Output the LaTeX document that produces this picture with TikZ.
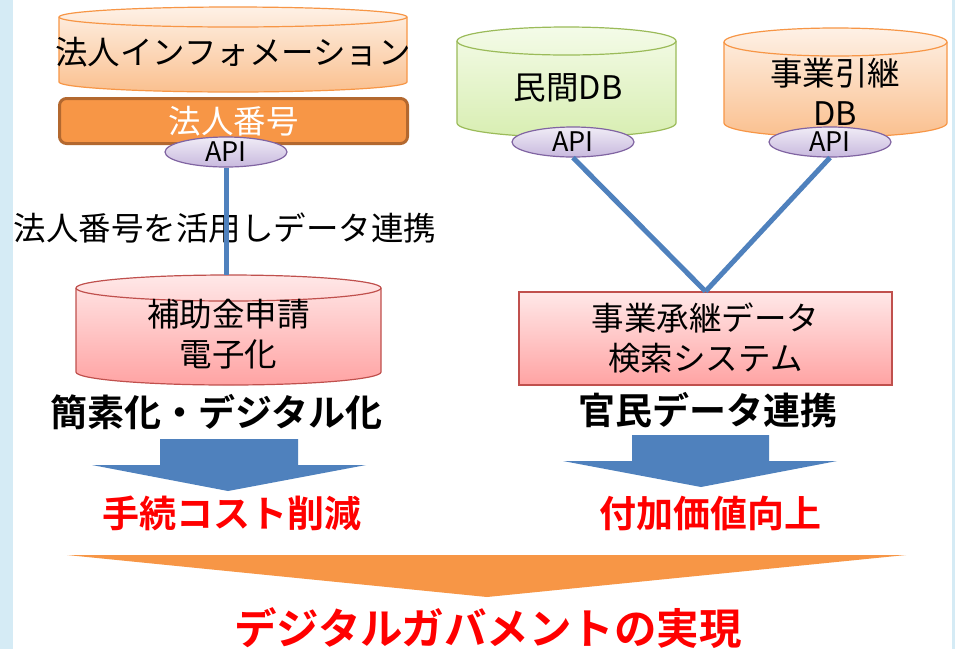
\documentclass[tikz,border=0pt]{standalone}
\usepackage{fontspec}
\newfontfamily\jp{Noto Sans CJK JP}[BoldFont={Noto Sans CJK JP Bold}]
\usetikzlibrary{shapes.geometric}
\definecolor{stripblue}{HTML}{D5EBF5}
\definecolor{lnblue}{HTML}{4F81BD}
\definecolor{orng}{HTML}{F79646}
\definecolor{orngdark}{HTML}{B3682F}
\definecolor{peachtop}{HTML}{FEF1E6}
\definecolor{peachbot}{HTML}{FAC08F}
\definecolor{greentop}{HTML}{F4FBE8}
\definecolor{greenbot}{HTML}{D8EEB2}
\definecolor{greenline}{HTML}{9BBB59}
\definecolor{redtop}{HTML}{FFE8E8}
\definecolor{redbot}{HTML}{FFA3A3}
\definecolor{redline}{HTML}{C0504D}
\definecolor{lavtop}{HTML}{F0ECF6}
\definecolor{lavbot}{HTML}{C8B9DE}
\definecolor{purp}{HTML}{8064A2}
\definecolor{txtred}{HTML}{FF0000}
% #1 fill style, #2 x1, #3 x2, #4 ytop, #5 ybot, #6 ry, #7 name, #8 line colour
\newcommand{\dbcyl}[8]{%
 \pgfmathsetmacro\cA{(#2+#3)/2}%
 \pgfmathsetmacro\rA{(#3-#2)/2}%
 \pgfmathsetmacro\tA{#4+#6}%
 \pgfmathsetmacro\bA{#5-#6}%
 \pgfmathsetmacro\kx{0.5523*\rA}%
 \pgfmathsetmacro\ky{0.5523*#6}%
 \path[#1] (#2,\tA) -- (#2,\bA) .. controls (#2,{\bA+\ky}) and ({\cA-\kx},#5) .. (\cA,#5)
   .. controls ({\cA+\kx},#5) and (#3,{\bA+\ky}) .. (#3,\bA) -- (#3,\tA)
   .. controls (#3,{\tA-\ky}) and ({\cA+\kx},#4) .. (\cA,#4)
   .. controls ({\cA-\kx},#4) and (#2,{\tA-\ky}) .. (#2,\tA) -- cycle;
 \draw[#8, line width=1.2] (#2,\tA) .. controls (#2,{\tA+\ky}) and ({\cA-\kx},{\tA+#6}) .. (\cA,{\tA+#6})
   .. controls ({\cA+\kx},{\tA+#6}) and (#3,{\tA+\ky}) .. (#3,\tA);
 \node[inner sep=0, minimum width={2*\rA}, minimum height={#5-#4}] (#7) at (\cA,{(#4+#5)/2}) {};
}
\begin{document}
\begin{tikzpicture}[x=1pt,y=-1pt,
  peachcyl/.style={draw=orng, line width=1.2, top color=peachtop, bottom color=peachbot},
  greencyl/.style={draw=greenline, line width=1.2, top color=greentop, bottom color=greenbot},
  redcyl/.style={draw=redline, line width=1.2, top color=redtop, bottom color=redbot},
  txt/.style={font=\jp\fontsize{32.5}{40}\selectfont, align=center, inner sep=0},
  boldtxt/.style={font=\jp\bfseries\fontsize{37}{44}\selectfont, inner sep=0},
  redtxt/.style={font=\jp\bfseries\fontsize{37}{44}\selectfont, text=txtred, inner sep=0},
  apishape/.style={ellipse, draw=purp, line width=1.2, top color=lavtop, bottom color=lavbot,
     minimum width=122, minimum height=30, inner sep=0},
  apitext/.style={font=\jp\fontsize{27}{30}\selectfont, inner sep=0},
  bangobox/.style={draw=orngdark, fill=orng, line width=3, rounded corners=7,
     minimum width=348, minimum height=45, inner sep=0, text=white,
     font=\jp\fontsize{32.5}{40}\selectfont},
  sysbox/.style={draw=redline, line width=1.2, top color=redtop, bottom color=redbot,
     minimum width=373, minimum height=93, inner sep=0, align=center,
     font=\jp\fontsize{32.5}{40}\selectfont},
  conn/.style={draw=lnblue, line width=5},
  bigarrow/.style={fill=lnblue}
]
\useasboundingbox (0,0) rectangle (955,649);
\fill[white] (0,0) rectangle (955,649);
\fill[stripblue] (0,0) rectangle (13,649);
\fill[stripblue] (952,0) rectangle (955,649);

% left column
\dbcyl{peachcyl}{59}{407}{7}{92}{10}{info}{orng}
\node[txt] (infotxt) at (233,52) {法人インフォメーション};
\node[bangobox] (bango) at (233.5,121) {法人番号};
\node[apishape] (api1) at (226,152) {};
\node[apitext] (api1t) at (api1) {API};
\node[txt] (lbl) at (225,228) {法人番号を活用しデータ連携};
\dbcyl{redcyl}{76}{381}{275}{385}{13}{hojo}{redline}
\node[txt] (hojotxt) at (228.5,334) {補助金申請\\電子化};
\draw[conn] (api1.south) -- (api1.south |- hojo.north);
\node[boldtxt] (kanso) at (216.5,412) {簡素化・デジタル化};
\fill[bigarrow] (160,439) -- (298,439) -- (298,465) -- (366,465) -- (228,491) -- (92,465) -- (160,465) -- cycle;
\node[redtxt] (tetsuzuki) at (232,513) {手続コスト削減};

% right column
\dbcyl{greencyl}{457}{676}{27}{137}{14}{mdb}{greenline}
\node[txt] (mdbtxt) at (568,88) {民間DB};
\dbcyl{peachcyl}{724}{947}{28}{137}{14}{jdb}{orng}
\node[txt] (jdbtxt) at (835,92) {事業引継\\DB};
\node[apishape] (api2) at (573,142) {};
\node[apitext] (api2t) at (api2) {API};
\node[apishape] (api3) at (830,142) {};
\node[apitext] (api3t) at (api3) {API};
\node[sysbox] (sys) at (705.5,338.5) {事業承継データ\\検索システム};
\draw[conn] (api2.south) -- (sys.north);
\draw[conn] (api3.south) -- (sys.north);
\node[boldtxt] (kanmin) at (708,410) {官民データ連携};
\fill[bigarrow] (632,435) -- (769,435) -- (769,461) -- (837,461) -- (701,487) -- (563,461) -- (632,461) -- cycle;
\node[redtxt] (fuka) at (710,513) {付加価値向上};

% bottom
\fill[orng] (67,555) -- (906,555) -- (487,597) -- cycle;
\node[redtxt, font=\jp\bfseries\fontsize{42.5}{48}\selectfont] (digital) at (488,628) {デジタルガバメントの実現};
\end{tikzpicture}
\end{document}
